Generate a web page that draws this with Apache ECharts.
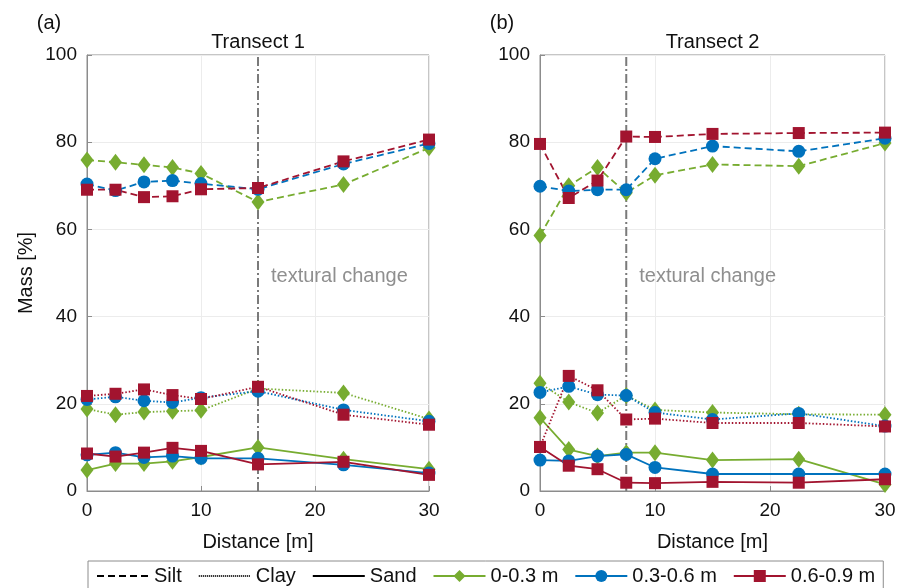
<!DOCTYPE html>
<html>
<head>
<meta charset="utf-8">
<script src="https://cdn.jsdelivr.net/npm/echarts@6/dist/echarts.min.js"></script>
<style>
  html, body { margin: 0; padding: 0; background: #fff; }
  #chart { width: 912px; height: 588px; }
</style>
</head>
<body>
<div id="chart"></div>
<script>
// Sampling positions along each transect [m]
const distances = [0, 2.5, 5, 7.5, 10, 15, 22.5, 30];

// Transect 1 mass fractions [%]
const t1SiltShallow = [75.9, 75.4, 74.8, 74.2, 72.8, 66.3, 70.3, 78.7];
const t1SiltMid     = [70.4, 68.9, 70.9, 71.2, 70.5, 69.2, 75.0, 79.7];
const t1SiltDeep    = [69.1, 69.1, 67.4, 67.6, 69.2, 69.5, 75.6, 80.6];
const t1ClayShallow = [18.8, 17.5, 18.1, 18.3, 18.5, 23.5, 22.5, 16.5];
const t1ClayMid     = [21.0, 21.6, 20.7, 20.3, 21.4, 22.9, 18.6, 16.0];
const t1ClayDeep    = [21.8, 22.3, 23.3, 22.0, 21.1, 23.9, 17.5, 15.2];
const t1SandShallow = [4.8, 6.3, 6.3, 6.8, 7.8, 10.0, 7.3, 5.0];
const t1SandMid     = [8.3, 8.8, 7.7, 8.0, 7.5, 7.5, 6.0, 4.1];
const t1SandDeep    = [8.6, 7.9, 8.8, 9.9, 9.2, 6.1, 6.7, 3.7];

// Transect 2 mass fractions [%]
const t2SiltShallow = [58.6, 70.0, 74.2, 68.4, 72.4, 74.9, 74.5, 79.8];
const t2SiltMid     = [69.9, 68.8, 69.1, 69.1, 76.2, 79.1, 77.9, 80.9];
const t2SiltDeep    = [79.6, 67.2, 71.2, 81.3, 81.2, 81.9, 82.1, 82.2];
const t2ClayShallow = [24.7, 20.4, 17.9, 21.9, 18.6, 18.0, 17.6, 17.5];
const t2ClayMid     = [22.6, 24.0, 22.1, 21.9, 18.0, 16.4, 17.8, 14.9];
const t2ClayDeep    = [10.1, 26.4, 23.1, 16.4, 16.6, 15.6, 15.6, 14.8];
const t2SandShallow = [16.8, 9.5, 8.0, 8.8, 8.8, 7.1, 7.3, 1.5];
const t2SandMid     = [7.1, 6.9, 8.0, 8.4, 5.4, 3.9, 3.9, 3.9];
const t2SandDeep    = [10.1, 5.8, 5.0, 1.9, 1.8, 2.1, 1.9, 2.7];

// Where the soil texture changes along each transect [m]
const texturalChangeAt = [15, 7.5];

const panelTitles = ['Transect 1', 'Transect 2'];
const panelTags = ['(a)', '(b)'];
const fractionNames = ['Silt', 'Clay', 'Sand'];
const depthNames = ['0-0.3 m', '0.3-0.6 m', '0.6-0.9 m'];
const xTicks = { min: 0, max: 30, interval: 10 };
const yTicks = { min: 0, max: 100, interval: 20 };

// panel -> depth -> fraction
const panels = [
  [
    [t1SiltShallow, t1ClayShallow, t1SandShallow],
    [t1SiltMid, t1ClayMid, t1SandMid],
    [t1SiltDeep, t1ClayDeep, t1SandDeep]
  ],
  [
    [t2SiltShallow, t2ClayShallow, t2SandShallow],
    [t2SiltMid, t2ClayMid, t2SandMid],
    [t2SiltDeep, t2ClayDeep, t2SandDeep]
  ]
];

// Styling
const FONT = '"Liberation Sans", Arial, Helvetica, sans-serif';
const TEXT = '#111';
const AXIS = '#8c8c8c';
const depthColors = ['#77ac30', '#0072bd', '#a2142f'];
const depthSymbols = ['diamond', 'circle', 'rect'];
const depthSymbolSizes = [[13, 17], 13, 12];
const fractionLineTypes = [[7, 4], [1.5, 2], 'solid'];
const grids = [
  { left: 87, top: 55, width: 342, height: 436 },
  { left: 540, top: 55, width: 345, height: 436 }
];

const chart = echarts.init(document.getElementById('chart'), null, { renderer: 'canvas' });

const series = [];
panels.forEach((panel, p) => {
  // vertical dash-dot marker of the textural change
  series.push({
    type: 'line',
    name: 'change-' + p,
    xAxisIndex: p,
    yAxisIndex: p,
    data: [[texturalChangeAt[p], yTicks.min], [texturalChangeAt[p], yTicks.max]],
    symbol: 'none',
    silent: true,
    lineStyle: { color: '#7a7a7a', width: 2, type: [9, 3, 2, 3] },
    z: 1,
    markPoint: {
      symbol: 'circle',
      symbolSize: 0,
      silent: true,
      data: [{ coord: [texturalChangeAt[p], 49.3] }],
      label: {
        show: true,
        position: 'right',
        distance: 13,
        formatter: 'textural change',
        color: '#8f8f8f',
        fontSize: 20,
        fontFamily: FONT
      }
    }
  });
  panel.forEach((depthSet, d) => {
    depthSet.forEach((vals, f) => {
      series.push({
        type: 'line',
        name: panelTitles[p] + ' ' + fractionNames[f] + ' ' + depthNames[d],
        xAxisIndex: p,
        yAxisIndex: p,
        data: distances.map((x, i) => [x, vals[i]]),
        symbol: depthSymbols[d],
        symbolSize: depthSymbolSizes[d],
        clip: false,
        z: 2,
        itemStyle: { color: depthColors[d], borderWidth: 0 },
        lineStyle: { color: depthColors[d], width: 1.8, type: fractionLineTypes[f] },
        emphasis: { disabled: true }
      });
    });
  });
});

// Legend entries
fractionNames.forEach((name, f) => {
  series.push({
    type: 'line', name: name, xAxisIndex: 0, yAxisIndex: 0, data: [],
    symbol: 'none',
    itemStyle: { color: 'rgba(0,0,0,0)' },
    lineStyle: { color: '#000', width: f === 1 ? 1.2 : 2, type: f === 1 ? [1, 1] : fractionLineTypes[f] }
  });
});
depthNames.forEach((name, d) => {
  series.push({
    type: 'line', name: name, xAxisIndex: 0, yAxisIndex: 0, data: [],
    symbol: depthSymbols[d],
    itemStyle: { color: depthColors[d] },
    lineStyle: { color: depthColors[d], width: 2, type: 'solid' }
  });
});

const axisCommon = {
  type: 'value',
  axisLine: { show: true, onZero: false, lineStyle: { color: AXIS, width: 1 } },
  axisTick: { show: true, inside: true, length: 5, lineStyle: { color: AXIS } },
  axisLabel: { fontSize: 19, color: TEXT, fontFamily: FONT, margin: 10 },
  splitLine: { show: true, lineStyle: { color: '#ececec', width: 1 } }
};

const graphicTexts = [];
grids.forEach((g, p) => {
  const cx = g.left + g.width / 2;
  graphicTexts.push({
    type: 'text', x: cx, y: 42,
    style: { text: panelTitles[p], fill: TEXT, font: '20px ' + FONT, textAlign: 'center', textVerticalAlign: 'middle' }
  });
  graphicTexts.push({
    type: 'text', x: g.left - 38, y: 23,
    style: { text: panelTags[p], fill: TEXT, font: '20px ' + FONT, textAlign: 'center', textVerticalAlign: 'middle' }
  });
  graphicTexts.push({
    type: 'text', x: cx, y: 542,
    style: { text: 'Distance [m]', fill: TEXT, font: '20px ' + FONT, textAlign: 'center', textVerticalAlign: 'middle' }
  });
});
graphicTexts.push({
  type: 'text', x: 26, y: 273, rotation: Math.PI / 2,
  style: { text: 'Mass [%]', fill: TEXT, font: '20px ' + FONT, textAlign: 'center', textVerticalAlign: 'middle' }
});

chart.setOption({
  animation: false,
  backgroundColor: '#fff',
  textStyle: { fontFamily: FONT },
  grid: grids.map(g => Object.assign({ show: true, borderColor: AXIS, borderWidth: 1, backgroundColor: 'transparent' }, g)),
  xAxis: grids.map((g, i) => Object.assign({}, axisCommon, { gridIndex: i }, xTicks)),
  yAxis: grids.map((g, i) => Object.assign({}, axisCommon, { gridIndex: i }, yTicks)),
  legend: {
    data: fractionNames.concat(depthNames),
    left: 88,
    top: 561,
    itemWidth: 52,
    itemHeight: 15,
    itemGap: 16,
    padding: [5, 8, 12, 8],
    borderColor: AXIS,
    borderWidth: 1,
    backgroundColor: '#fff',
    selectedMode: false,
    textStyle: { fontSize: 20, color: TEXT, fontFamily: FONT }
  },
  graphic: graphicTexts,
  series: series
});
</script>
</body>
</html>
